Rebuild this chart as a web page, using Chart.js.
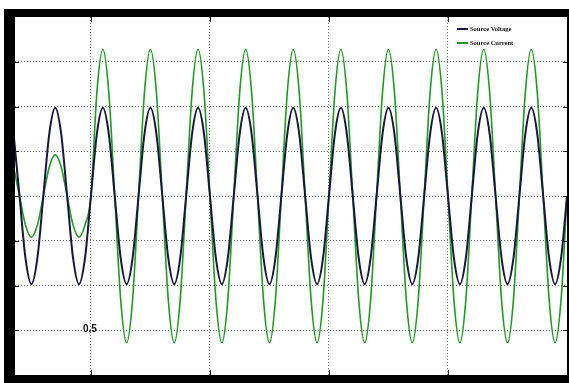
<!DOCTYPE html>
<html>
<head>
<meta charset="utf-8">
<title>Source Voltage and Source Current</title>
<script src="https://cdn.jsdelivr.net/npm/chart.js@4.4.1/dist/chart.umd.min.js"></script>
<style>
  html, body { margin: 0; padding: 0; background: #fff; }
  #wrap { position: relative; width: 569px; height: 383px; }
</style>
</head>
<body>
<div id="wrap"><canvas id="waveChart"></canvas></div>
<script>
/* ============================================
   Source voltage / source current waveforms
   ============================================ */

// time axis (ms), one sample every 1/8 of a 20 ms cycle
const timeMs = [
  17.5, 20, 22.5, 25, 27.5, 30, 32.5, 35, 37.5, 40,
  42.5, 45, 47.5, 50, 52.5, 55, 57.5, 60, 62.5, 65,
  67.5, 70, 72.5, 75, 77.5, 80, 82.5, 85, 87.5, 90,
  92.5, 95, 97.5, 100, 102.5, 105, 107.5, 110, 112.5, 115,
  117.5, 120, 122.5, 125, 127.5, 130, 132.5, 135, 137.5, 140,
  142.5, 145, 147.5, 150, 152.5, 155, 157.5, 160, 162.5, 165,
  167.5, 170, 172.5, 175, 177.5, 180, 182.5, 185, 187.5, 190,
  192.5, 195, 197.5, 200, 202.5, 205, 207.5, 210, 212.5, 215,
  217.5, 220, 222.5, 225, 227.5, 230, 232.5, 235, 237.5, 240,
  242.5, 245, 247.5, 250
];

const sourceVoltage = [
  1.39, 0, -1.39, -1.97, -1.39, 0, 1.39, 1.97,
  1.39, 0, -1.39, -1.97, -1.39, 0, 1.39, 1.97,
  1.39, 0, -1.39, -1.97, -1.39, 0, 1.39, 1.97,
  1.39, 0, -1.39, -1.97, -1.39, 0, 1.39, 1.97,
  1.39, 0, -1.39, -1.97, -1.39, 0, 1.39, 1.97,
  1.39, 0, -1.39, -1.97, -1.39, 0, 1.39, 1.97,
  1.39, 0, -1.39, -1.97, -1.39, 0, 1.39, 1.97,
  1.39, 0, -1.39, -1.97, -1.39, 0, 1.39, 1.97,
  1.39, 0, -1.39, -1.97, -1.39, 0, 1.39, 1.97,
  1.39, 0, -1.39, -1.97, -1.39, 0, 1.39, 1.97,
  1.39, 0, -1.39, -1.97, -1.39, 0, 1.39, 1.97,
  1.39, 0, -1.39, -1.97, -1.39, 0
];

const sourceCurrent = [
  0.65, 0, -0.65, -0.92, -0.65, 0, 0.65, 0.92,
  0.65, 0, -0.65, -0.92, -0.65, 0,
  2.32, 3.28, 2.32, 0, -2.32, -3.28, -2.32, 0,
  2.32, 3.28, 2.32, 0, -2.32, -3.28, -2.32, 0,
  2.32, 3.28, 2.32, 0, -2.32, -3.28, -2.32, 0,
  2.32, 3.28, 2.32, 0, -2.32, -3.28, -2.32, 0,
  2.32, 3.28, 2.32, 0, -2.32, -3.28, -2.32, 0,
  2.32, 3.28, 2.32, 0, -2.32, -3.28, -2.32, 0,
  2.32, 3.28, 2.32, 0, -2.32, -3.28, -2.32, 0,
  2.32, 3.28, 2.32, 0, -2.32, -3.28, -2.32, 0,
  2.32, 3.28, 2.32, 0, -2.32, -3.28, -2.32, 0,
  2.32, 3.28, 2.32, 0, -2.32, -3.28, -2.32, 0
];

const seriesLabels = ['Source Voltage', 'Source Current'];
const seriesColors = ['#17173f', '#1f9b22'];
const xTicks = [50, 100, 150, 200];
const yTicks = [-3, -2, -1, 0, 1, 2, 3];
const markerText = '0.5';
const markerAt = { x: 50, y: -3 };

const toPoints = ys => timeMs.map((t, i) => ({ x: t, y: ys[i] }));

// black MATLAB-like frame, tick marks, stray "0.5" label and legend
const figurePlugin = {
  id: 'figure',
  beforeDraw(chart) {
    const { ctx, chartArea: a, width, height } = chart;
    ctx.save();
    ctx.fillStyle = '#fff';
    ctx.fillRect(0, 0, width, height);
    ctx.fillStyle = '#000';
    ctx.fillRect(4, 9, width - 4, height - 9);
    ctx.fillStyle = '#fff';
    ctx.fillRect(a.left, a.top, a.right - a.left, a.bottom - a.top);
    ctx.restore();
  },
  afterDraw(chart) {
    const { ctx, chartArea: a, scales } = chart;
    ctx.save();
    ctx.strokeStyle = '#222';
    ctx.lineWidth = 1;
    ctx.beginPath();
    xTicks.forEach(v => {
      const px = Math.round(scales.x.getPixelForValue(v)) + 0.5;
      ctx.moveTo(px, a.top); ctx.lineTo(px, a.top + 5);
      ctx.moveTo(px, a.bottom); ctx.lineTo(px, a.bottom - 5);
    });
    yTicks.forEach(v => {
      const py = Math.round(scales.y.getPixelForValue(v)) + 0.5;
      ctx.moveTo(a.left, py); ctx.lineTo(a.left + 4, py);
      ctx.moveTo(a.right, py); ctx.lineTo(a.right - 4, py);
    });
    ctx.stroke();

    // the "0.5" text left in the plot
    ctx.fillStyle = '#111';
    ctx.font = 'bold 10px "Liberation Sans", Arial, sans-serif';
    ctx.textAlign = 'center';
    ctx.textBaseline = 'alphabetic';
    ctx.fillText(markerText, scales.x.getPixelForValue(markerAt.x) - 1, scales.y.getPixelForValue(markerAt.y) + 2);

    // legend
    const lx = a.right - 111;
    const rows = [a.top + 12, a.top + 26];
    ctx.textAlign = 'left';
    ctx.textBaseline = 'middle';
    ctx.font = 'bold 6.5px "Liberation Serif", "Times New Roman", serif';
    chart.data.datasets.forEach((ds, i) => {
      ctx.strokeStyle = ds.borderColor;
      ctx.lineWidth = 2;
      ctx.beginPath();
      ctx.moveTo(lx + 1, rows[i]);
      ctx.lineTo(lx + 12, rows[i]);
      ctx.stroke();
      ctx.fillStyle = '#111';
      ctx.fillText(ds.label, lx + 14, rows[i]);
    });
    ctx.restore();
  }
};

const gridColor = edgeValues => c =>
  edgeValues.includes(c.tick.value) ? 'rgba(0,0,0,0)' : '#6e6e6e';

new Chart(document.getElementById('waveChart'), {
  type: 'line',
  data: {
    datasets: [
      {
        label: seriesLabels[0],
        data: toPoints(sourceVoltage),
        borderColor: seriesColors[0],
        borderWidth: 2,
        pointRadius: 0,
        cubicInterpolationMode: 'monotone',
        fill: false
      },
      {
        label: seriesLabels[1],
        data: toPoints(sourceCurrent),
        borderColor: seriesColors[1],
        borderWidth: 1.6,
        pointRadius: 0,
        cubicInterpolationMode: 'monotone',
        fill: false
      }
    ]
  },
  options: {
    responsive: true,
    maintainAspectRatio: false,
    animation: false,
    layout: { padding: { left: 15, top: 17, right: 2, bottom: 8 } },
    plugins: {
      legend: { display: false },
      tooltip: { enabled: false }
    },
    scales: {
      x: {
        type: 'linear',
        min: 18.1,
        max: 250,
        ticks: { display: false, stepSize: 50, includeBounds: false },
        grid: { color: gridColor([250]), lineWidth: 1, drawTicks: false },
        border: { display: false, dash: [1, 2] }
      },
      y: {
        min: -4,
        max: 4,
        ticks: { display: false, stepSize: 1 },
        grid: { color: gridColor([-4, 4]), lineWidth: 1, drawTicks: false },
        border: { display: false, dash: [1, 2] }
      }
    }
  },
  plugins: [figurePlugin]
});
</script>
</body>
</html>
